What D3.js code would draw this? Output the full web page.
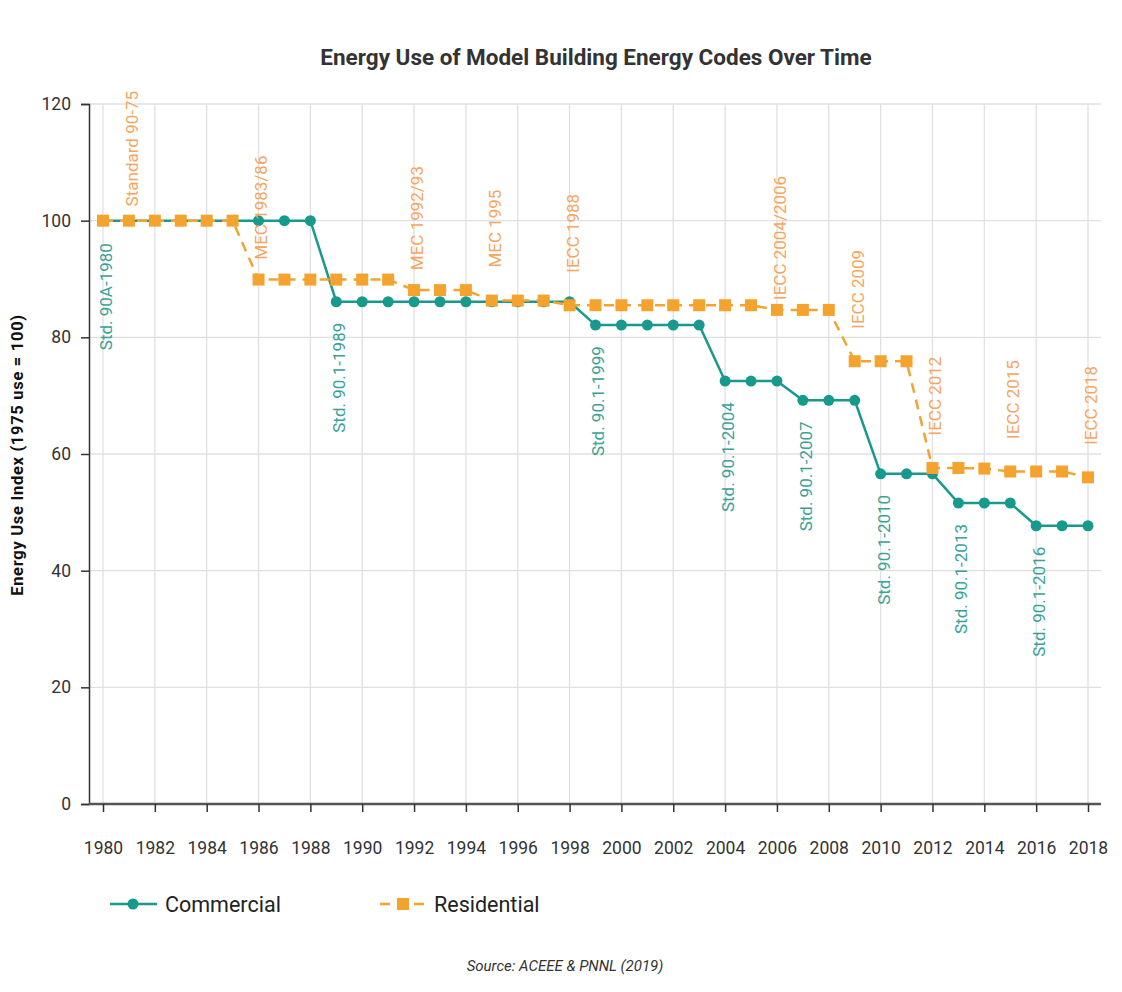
<!DOCTYPE html>
<html>
<head>
<meta charset="utf-8">
<script src="https://cdn.jsdelivr.net/npm/d3@7"></script>
<style>
  body { margin: 0; background: #fff; }
  text { font-family: Roboto, "Noto Sans", sans-serif; }
</style>
</head>
<body>
<svg width="1122" height="992"></svg>
<script>
const years = d3.range(1980, 2019);

const commercial = [
  100, 100, 100, 100, 100, 100, 100, 100, 100,
  86.1, 86.1, 86.1, 86.1, 86.1, 86.1, 86.1, 86.1, 86.1, 86.1,
  82.1, 82.1, 82.1, 82.1, 82.1,
  72.5, 72.5, 72.5,
  69.2, 69.2, 69.2,
  56.6, 56.6, 56.6,
  51.6, 51.6, 51.6,
  47.7, 47.7, 47.7
];

const residential = [
  100, 100, 100, 100, 100, 100,
  89.9, 89.9, 89.9, 89.9, 89.9, 89.9,
  88.1, 88.1, 88.1,
  86.3, 86.3, 86.3,
  85.5, 85.5, 85.5, 85.5, 85.5, 85.5, 85.5, 85.5,
  84.7, 84.7, 84.7,
  75.9, 75.9, 75.9,
  57.6, 57.6, 57.5,
  57.0, 57.0, 57.0,
  56.0
];

const commercialLabels = [
  { year: 1980, text: "Std. 90A-1980" },
  { year: 1989, text: "Std. 90.1-1989" },
  { year: 1999, text: "Std. 90.1-1999" },
  { year: 2004, text: "Std. 90.1-2004" },
  { year: 2007, text: "Std. 90.1-2007" },
  { year: 2010, text: "Std. 90.1-2010" },
  { year: 2013, text: "Std. 90.1-2013" },
  { year: 2016, text: "Std. 90.1-2016" }
];

const residentialLabels = [
  { year: 1981, text: "Standard 90-75" },
  { year: 1986, text: "MEC 1983/86" },
  { year: 1992, text: "MEC 1992/93" },
  { year: 1995, text: "MEC 1995" },
  { year: 1998, text: "IECC 1988" },
  { year: 2006, text: "IECC 2004/2006" },
  { year: 2009, text: "IECC 2009" },
  { year: 2012, text: "IECC 2012" },
  { year: 2015, text: "IECC 2015" },
  { year: 2018, text: "IECC 2018" }
];

const yTicks = [0, 20, 40, 60, 80, 100, 120];
const xTicks = d3.range(1980, 2019, 2);

const teal = "#17998b";
const orange = "#f5a32f";

const svg = d3.select("svg");

const x = d3.scaleLinear().domain([1980, 2018]).range([103, 1088]);
const y = d3.scaleLinear().domain([0, 120]).range([804, 104]);

// title
svg.append("text")
  .attr("x", 596).attr("y", 65)
  .attr("text-anchor", "middle")
  .attr("font-size", 22.5).attr("font-weight", "bold")
  .attr("fill", "#333")
  .text("Energy Use of Model Building Energy Codes Over Time");

// gridlines
svg.append("g")
  .selectAll("line.h")
  .data(yTicks)
  .join("line")
  .attr("x1", 89).attr("x2", 1101)
  .attr("y1", d => y(d)).attr("y2", d => y(d))
  .attr("stroke", "#e0e0e0").attr("stroke-width", 1.3);

svg.append("g")
  .selectAll("line.v")
  .data(xTicks)
  .join("line")
  .attr("x1", d => x(d)).attr("x2", d => x(d))
  .attr("y1", 104).attr("y2", 804)
  .attr("stroke", "#e0e0e0").attr("stroke-width", 1.3);

// y axis
const yAxis = svg.append("g")
  .attr("transform", "translate(89,0)")
  .call(d3.axisLeft(y).tickValues(yTicks).tickSize(8).tickPadding(10));
yAxis.select(".domain").attr("stroke", "#333").attr("stroke-width", 1.5);
yAxis.selectAll(".tick line").attr("stroke", "#333").attr("stroke-width", 1.5);
yAxis.selectAll("text").attr("font-size", 17.5).attr("fill", "#333")
  .attr("font-family", "Roboto, sans-serif");

// x axis
const xAxis = svg.append("g")
  .attr("transform", "translate(0,804)")
  .call(d3.axisBottom(x).tickValues(xTicks).tickFormat(d3.format("d")).tickSize(8).tickPadding(30).tickSizeOuter(0));
xAxis.select(".domain").attr("d", "M89,0H1101").attr("stroke", "#555").attr("stroke-width", 2.5);
xAxis.selectAll(".tick line").attr("stroke", "#333").attr("stroke-width", 1.5);
xAxis.selectAll("text").attr("font-size", 17.5).attr("fill", "#333")
  .attr("font-family", "Roboto, sans-serif");

// y axis title
svg.append("text")
  .attr("transform", "translate(23,455) rotate(-90)")
  .attr("text-anchor", "middle")
  .attr("font-size", 16.5).attr("font-weight", "bold")
  .attr("letter-spacing", 0.7)
  .attr("fill", "#111")
  .text("Energy Use Index (1975 use = 100)");

const line = d3.line().x(d => x(d[0])).y(d => y(d[1]));
const comData = years.map((yr, i) => [yr, commercial[i]]);
const resData = years.map((yr, i) => [yr, residential[i]]);

// commercial series
svg.append("path")
  .datum(comData)
  .attr("d", line)
  .attr("fill", "none").attr("stroke", teal).attr("stroke-width", 2.5);
svg.append("g")
  .selectAll("circle")
  .data(comData)
  .join("circle")
  .attr("cx", d => x(d[0])).attr("cy", d => y(d[1]))
  .attr("r", 5.5).attr("fill", teal);

// residential series
svg.append("path")
  .datum(resData)
  .attr("d", line)
  .attr("fill", "none").attr("stroke", orange).attr("stroke-width", 2.5)
  .attr("stroke-dasharray", "10,7");
svg.append("g")
  .selectAll("rect")
  .data(resData)
  .join("rect")
  .attr("x", d => x(d[0]) - 6).attr("y", d => y(d[1]) - 6)
  .attr("width", 12).attr("height", 12)
  .attr("fill", orange);

// data labels
svg.append("g")
  .selectAll("text")
  .data(commercialLabels)
  .join("text")
  .attr("transform", d => `translate(${x(d.year) + 3},${y(commercial[d.year - 1980]) + 76}) rotate(-90)`)
  .attr("text-anchor", "middle").attr("dy", "0.35em")
  .attr("font-size", 17).attr("fill", "#3aa197")
  .text(d => d.text);

svg.append("g")
  .selectAll("text")
  .data(residentialLabels)
  .join("text")
  .attr("transform", d => `translate(${x(d.year) + 3},${y(residential[d.year - 1980]) - 72}) rotate(-90)`)
  .attr("text-anchor", "middle").attr("dy", "0.35em")
  .attr("font-size", 17).attr("fill", "#f7a55e")
  .text(d => d.text);

// legend
const legend = svg.append("g");
legend.append("line")
  .attr("x1", 110).attr("x2", 157).attr("y1", 904).attr("y2", 904)
  .attr("stroke", teal).attr("stroke-width", 2.5);
legend.append("circle")
  .attr("cx", 133).attr("cy", 904).attr("r", 5.5).attr("fill", teal);
legend.append("text")
  .attr("x", 165).attr("y", 912)
  .attr("font-size", 21.5).attr("fill", "#222")
  .text("Commercial");

legend.append("line")
  .attr("x1", 380).attr("x2", 427).attr("y1", 904).attr("y2", 904)
  .attr("stroke", orange).attr("stroke-width", 2.5)
  .attr("stroke-dasharray", "10,7");
legend.append("rect")
  .attr("x", 397).attr("y", 898).attr("width", 12).attr("height", 12)
  .attr("fill", orange);
legend.append("text")
  .attr("x", 434).attr("y", 912)
  .attr("font-size", 21.5).attr("fill", "#222")
  .text("Residential");

// source
svg.append("text")
  .attr("x", 565).attr("y", 971)
  .attr("text-anchor", "middle")
  .attr("font-size", 15).attr("font-style", "italic")
  .attr("font-family", "'Open Sans', sans-serif")
  .attr("fill", "#333")
  .text("Source: ACEEE & PNNL (2019)");
</script>
</body>
</html>
